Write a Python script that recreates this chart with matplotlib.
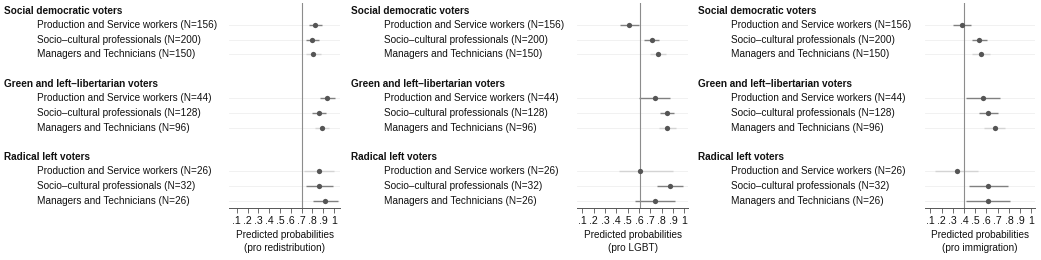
import matplotlib
matplotlib.use('Agg')
import matplotlib.pyplot as plt
import matplotlib.transforms as mtransforms

plt.rcParams['font.family'] = ['Liberation Sans', 'DejaVu Sans']

GROUPS = ['Social democratic voters', 'Green and left\u2013libertarian voters',
          'Radical left voters']
CLASSES = ['Production and Service workers', 'Socio\u2013cultural professionals',
           'Managers and Technicians']
NS = [[156, 200, 150], [44, 128, 96], [26, 32, 26]]
# dark (True) or light grey confidence bar, per group and class
DARK_CI = [[True, True, False], [True, True, False], [False, True, True]]

TITLES = ['Predicted probabilities\n(pro redistribution)',
          'Predicted probabilities\n(pro LGBT)',
          'Predicted probabilities\n(pro immigration)']
REF = [0.70, 0.61, 0.40]

# point estimates and CI bounds, order: group x class
EST = [
    [0.824, 0.802, 0.808, 0.939, 0.858, 0.889, 0.861, 0.864, 0.920],
    [0.516, 0.711, 0.767, 0.737, 0.843, 0.846, 0.613, 0.873, 0.740],
    [0.381, 0.538, 0.547, 0.567, 0.618, 0.674, 0.340, 0.618, 0.612],
]
LO = [
    [0.768, 0.746, 0.740, 0.870, 0.793, 0.824, 0.721, 0.740, 0.808],
    [0.433, 0.646, 0.699, 0.604, 0.781, 0.776, 0.424, 0.761, 0.566],
    [0.304, 0.470, 0.467, 0.422, 0.535, 0.577, 0.144, 0.443, 0.422],
]
HI = [
    [0.886, 0.864, 0.880, 1.010, 0.926, 0.957, 1.000, 0.988, 1.041],
    [0.601, 0.778, 0.840, 0.870, 0.911, 0.923, 0.899, 0.988, 0.914],
    [0.461, 0.609, 0.633, 0.718, 0.706, 0.766, 0.529, 0.792, 0.807],
]
XLIMS = [(0.03, 1.06), (0.05, 1.035), (0.05, 1.035)]
TICKS = [0.1, 0.2, 0.3, 0.4, 0.5, 0.6, 0.7, 0.8, 0.9, 1.0]
TICKLABELS = ['.1', '.2', '.3', '.4', '.5', '.6', '.7', '.8', '.9', '1']

W, H = 1041, 260
AX_LEFT = [229.3, 576.7, 924.7]
AX_WIDTH = [111.0, 111.6, 110.6]
HEAD_X = [4, 351, 698]
LAB_X = [37, 383.5, 731]
FS = 7.2

fig = plt.figure(figsize=(W / 100, H / 100), dpi=100)

for p in range(3):
    ax = fig.add_axes([AX_LEFT[p] / W, 1 - 208 / H, AX_WIDTH[p] / W, 204.7 / H])
    ax.set_xlim(*XLIMS[p])
    ax.set_ylim(12.5, -1.5)
    trans = mtransforms.blended_transform_factory(fig.transFigure, ax.transData)

    for g in range(3):
        head_y = g * 5 - 1
        ax.text(HEAD_X[p] / W, head_y, GROUPS[g], transform=trans,
                fontsize=FS, fontweight='bold', ha='left', va='center',
                color='#111111', clip_on=False)
        for c in range(3):
            i = g * 3 + c
            y = g * 5 + c
            ax.text(LAB_X[p] / W, y, f'{CLASSES[c]} (N={NS[g][c]})',
                    transform=trans, fontsize=FS, ha='left', va='center',
                    color='#111111', clip_on=False)
            ax.axhline(y, color='#efefef', lw=0.6, zorder=1)
            col = '#808080' if DARK_CI[g][c] else '#d4d4d4'
            ax.plot([LO[p][i], HI[p][i]], [y, y], color=col, lw=1.0,
                    solid_capstyle='butt', zorder=2)
            ax.plot(EST[p][i], y, 'o', color='#555555', ms=3.8, mew=0,
                    zorder=3)

    ax.axvline(REF[p], color='#8c8c8c', lw=0.8, zorder=2)

    for s in ('top', 'right', 'left'):
        ax.spines[s].set_visible(False)
    ax.spines['bottom'].set_color('#555555')
    ax.spines['bottom'].set_linewidth(0.7)
    ax.set_yticks([])
    ax.set_xticks(TICKS)
    ax.set_xticklabels(TICKLABELS, fontsize=7.6, color='#111111')
    ax.tick_params(axis='x', length=3.5, width=0.6, color='#555555', pad=2)
    ax.set_xlabel(TITLES[p], fontsize=FS, labelpad=3, linespacing=1.35,
                  color='#111111')

fig.savefig('out.png', dpi=100)
